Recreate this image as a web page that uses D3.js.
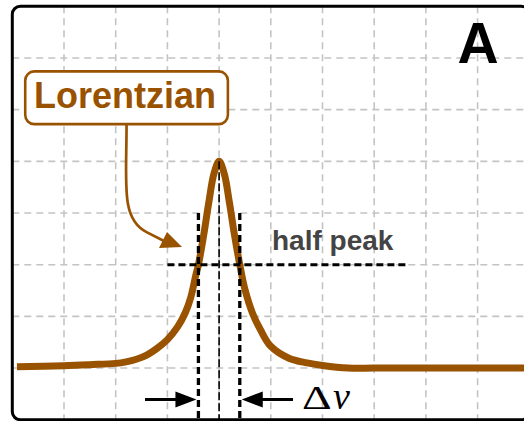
<!DOCTYPE html>
<html>
<head>
<meta charset="utf-8">
<script src="https://cdn.jsdelivr.net/npm/d3@7"></script>
<style>
  html, body { margin: 0; padding: 0; background: #fff; }
  svg { display: block; }
</style>
</head>
<body>
<svg id="chart" width="524" height="421"></svg>
<script>
// Line profile sampled along the frequency axis (grid units)
const freq = [0.09, 1.0, 1.5, 2.0, 2.2, 2.4, 2.6, 2.8, 3.0, 3.2, 3.35, 3.45, 3.55, 3.6, 3.7, 3.8, 3.9, 4.0,
              4.1, 4.2, 4.3, 4.4, 4.5, 4.65, 4.8, 5.0, 5.35, 5.7, 6.0, 6.5, 7.0, 8.0, 9.0, 9.95];
const amplitude = [1.025, 1.045, 1.065, 1.09, 1.12, 1.17, 1.25, 1.38, 1.55, 1.8, 2.08, 2.36, 2.8, 3.0, 3.56, 4.2, 4.76, 5.0,
                   4.76, 4.2, 3.56, 3.0, 2.52, 2.05, 1.74, 1.42, 1.19, 1.1, 1.05, 1.0, 1.0, 1.0, 1.0, 1.0];

// Peak, half-maximum level and the two half-maximum crossings
const peakFreq = 4.0;
const peakLevel = 5.0;
const halfLevel = 3.0;
const halfEdges = [3.6, 4.4];
const halfLineSpan = [3.0, 7.63];

// Grid lines
const xGrid = [1, 2, 3, 4, 5, 6, 7, 8, 9];
const yGrid = [1, 2, 3, 4, 5, 6, 7];

const brown = "#995200";
const svg = d3.select("#chart");

const x = d3.scaleLinear().domain([0, 10]).range([12.3, 529.3]);
const y = d3.scaleLinear().domain([0, 8]).range([419.7, 6.3]);

// dashed background grid
const grid = svg.append("g")
  .attr("stroke", "#c4c4c4")
  .attr("stroke-width", 1.6)
  .attr("stroke-dasharray", "7,5");
grid.selectAll("line.v").data(xGrid).join("line")
  .attr("class", "v")
  .attr("x1", d => x(d)).attr("x2", d => x(d))
  .attr("y1", y(8)).attr("y2", y(0));
grid.selectAll("line.h").data(yGrid).join("line")
  .attr("class", "h")
  .attr("y1", d => y(d)).attr("y2", d => y(d))
  .attr("x1", x(0)).attr("x2", x(10));

// frame
svg.append("rect")
  .attr("x", x(0)).attr("y", y(8))
  .attr("width", x(10) - x(0)).attr("height", y(0) - y(8))
  .attr("rx", 8).attr("ry", 8)
  .attr("fill", "none")
  .attr("stroke", "#000")
  .attr("stroke-width", 3);

// the line profile
const line = d3.line()
  .x((d, i) => x(freq[i]))
  .y(d => y(d))
  .curve(d3.curveCatmullRom.alpha(0.5));
svg.append("path")
  .datum(amplitude)
  .attr("d", line)
  .attr("fill", "none")
  .attr("stroke", brown)
  .attr("stroke-width", 7)
  .attr("stroke-linejoin", "round");

// half-peak level
svg.append("line")
  .attr("x1", x(halfLineSpan[0])).attr("x2", x(halfLineSpan[1]))
  .attr("y1", y(halfLevel)).attr("y2", y(halfLevel))
  .attr("stroke", "#000").attr("stroke-width", 3)
  .attr("stroke-dasharray", "7,4");

// half-maximum crossings
svg.selectAll("line.edge").data(halfEdges).join("line")
  .attr("class", "edge")
  .attr("x1", d => x(d)).attr("x2", d => x(d))
  .attr("y1", y(4.0)).attr("y2", y(0))
  .attr("stroke", "#000").attr("stroke-width", 3.3)
  .attr("stroke-dasharray", "7,4");

// line centre
svg.append("line")
  .attr("x1", x(peakFreq)).attr("x2", x(peakFreq))
  .attr("y1", y(peakLevel)).attr("y2", y(0))
  .attr("stroke", "#000").attr("stroke-width", 1.6)
  .attr("stroke-dasharray", "8,3");

svg.append("text")
  .attr("x", 272).attr("y", 250)
  .attr("font-family", "'Liberation Sans', Arial, sans-serif")
  .attr("font-weight", "bold")
  .attr("font-size", 28)
  .attr("fill", "#444")
  .text("half peak");

// width arrows
const arrowY = 399.5;
function arrow(fromX, tipX) {
  const dir = Math.sign(tipX - fromX);
  const baseX = tipX - dir * 21;
  svg.append("line")
    .attr("x1", fromX).attr("x2", baseX + dir * 2)
    .attr("y1", arrowY).attr("y2", arrowY)
    .attr("stroke", "#000").attr("stroke-width", 3);
  svg.append("path")
    .attr("d", `M${tipX},${arrowY} L${baseX},${arrowY - 8} L${baseX},${arrowY + 8} Z`)
    .attr("fill", "#000");
}
arrow(145, x(halfEdges[0]) - 2);
arrow(293, x(halfEdges[1]) + 2);

// Δν label
svg.append("text")
  .attr("transform", "translate(302,409) scale(1.4,1)")
  .attr("font-family", "'Liberation Serif', 'Times New Roman', serif")
  .attr("font-size", 33)
  .attr("fill", "#000")
  .text("Δ");
svg.append("text")
  .attr("x", 333).attr("y", 409)
  .attr("font-family", "'Liberation Serif', 'Times New Roman', serif")
  .attr("font-style", "italic")
  .attr("font-size", 38)
  .attr("fill", "#000")
  .text("ν");

// label box with curved pointer
const box = { x0: 0.25, x1: 4.17, yTop: 6.74, yBot: 5.72 };
svg.append("rect")
  .attr("x", x(box.x0)).attr("y", y(box.yTop))
  .attr("width", x(box.x1) - x(box.x0)).attr("height", y(box.yBot) - y(box.yTop))
  .attr("rx", 9).attr("ry", 9)
  .attr("fill", "#fff")
  .attr("stroke", brown).attr("stroke-width", 2.6);
svg.append("text")
  .attr("x", 34).attr("y", 108)
  .attr("font-family", "'Liberation Sans', Arial, sans-serif")
  .attr("font-weight", "bold")
  .attr("font-size", 36)
  .attr("fill", brown)
  .text("Lorentzian");

const sx = x(2.21), sy = y(box.yBot);
const tipX = 182, tipY = 247;
svg.append("path")
  .attr("d", `M${sx},${sy} C${sx},${sy + 60} ${sx - 6},${sy + 95} ${sx + 20},${sy + 108} L${tipX - 18},${tipY - 6}`)
  .attr("fill", "none")
  .attr("stroke", brown).attr("stroke-width", 2.7);
svg.append("path")
  .attr("d", `M${tipX},${tipY} L${tipX - 23},${tipY + 1} L${tipX - 15},${tipY - 15} Z`)
  .attr("fill", brown);

// panel letter
svg.append("text")
  .attr("x", 478).attr("y", 63)
  .attr("text-anchor", "middle")
  .attr("font-family", "'Liberation Sans', Arial, sans-serif")
  .attr("font-weight", "bold")
  .attr("font-size", 57)
  .attr("fill", "#000")
  .text("A");
</script>
</body>
</html>
